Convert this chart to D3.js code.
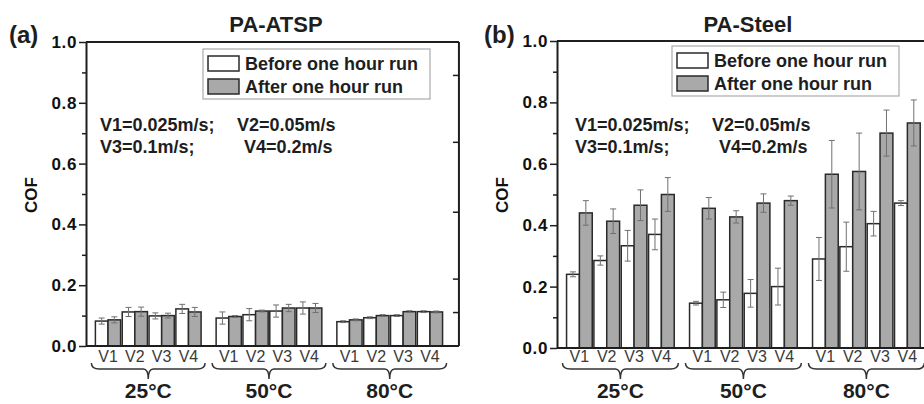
<!DOCTYPE html>
<html>
<head>
<meta charset="utf-8">
<script src="https://cdn.jsdelivr.net/npm/d3@7"></script>
<style>
  body { margin: 0; background: #fff; }
  svg { font-family: "Liberation Sans", Arial, sans-serif; }
</style>
</head>
<body>
<svg id="chart" width="924" height="404"></svg>
<script>
const temps = ["25°C", "50°C", "80°C"]
const speeds = ["V1", "V2", "V3", "V4"]
const yTicks = [0, 0.2, 0.4, 0.6, 0.8, 1.0]
const yMinorTicks = [0.1, 0.3, 0.5, 0.7, 0.9]
const rightTicks = [0.11, 0.22, 0.44, 0.67, 0.89]
const legendLabels = ["Before one hour run", "After one hour run"]
const noteLines = [["V1=0.025m/s;", "V2=0.05m/s"], ["V3=0.1m/s;", "V4=0.2m/s"]]

// PA-ATSP, 12 values: 25°C V1..V4, 50°C V1..V4, 80°C V1..V4
const atspBefore = [0.082, 0.112, 0.099, 0.122, 0.092, 0.103, 0.115, 0.125, 0.080, 0.093, 0.100, 0.113]
const atspBeforeErr = [0.010, 0.015, 0.010, 0.015, 0.020, 0.020, 0.020, 0.020, 0.003, 0.003, 0.003, 0.003]
const atspAfter = [0.086, 0.113, 0.100, 0.112, 0.097, 0.115, 0.125, 0.125, 0.086, 0.100, 0.113, 0.112]
const atspAfterErr = [0.010, 0.015, 0.008, 0.015, 0.003, 0.003, 0.012, 0.015, 0.003, 0.003, 0.003, 0.003]

// PA-Steel
const steelBefore = [0.240, 0.285, 0.333, 0.370, 0.146, 0.157, 0.178, 0.200, 0.290, 0.330, 0.405, 0.472]
const steelBeforeErr = [0.008, 0.015, 0.050, 0.050, 0.006, 0.025, 0.045, 0.060, 0.070, 0.080, 0.040, 0.008]
const steelAfter = [0.440, 0.413, 0.465, 0.500, 0.455, 0.427, 0.472, 0.480, 0.566, 0.575, 0.700, 0.733]
const steelAfterErr = [0.040, 0.040, 0.050, 0.055, 0.035, 0.020, 0.030, 0.015, 0.110, 0.125, 0.075, 0.075]

const svg = d3.select("#chart")
const ink = "#1e1e1e"

function drawPanel(p) {
  const g = svg.append("g")
  const x = d3.scaleLinear().domain([-0.82, 13.08]).range([p.left, p.left + 13.9 * p.unit])
  const y = d3.scaleLinear().domain([0, 1]).range([p.bottom, p.top])
  const right = x(13.08)
  const pos = (i) => Math.floor(i / 4) * 4.5 + (i % 4)
  const bw = p.unit * 0.47

  // bars
  const rows = p.before.map((d, i) => ({ i, b: d, be: p.beforeErr[i], a: p.after[i], ae: p.afterErr[i] }))
  g.selectAll("rect.before").data(rows).enter().append("rect")
    .attr("x", d => x(pos(d.i)) - bw)
    .attr("y", d => y(d.b))
    .attr("width", bw)
    .attr("height", d => y(0) - y(d.b))
    .attr("fill", "#fff").attr("stroke", "#2a2a2a").attr("stroke-width", 1.5)
  g.selectAll("rect.after").data(rows).enter().append("rect")
    .attr("x", d => x(pos(d.i)))
    .attr("y", d => y(d.a))
    .attr("width", bw)
    .attr("height", d => y(0) - y(d.a))
    .attr("fill", "#a9a9a9").attr("stroke", "#2a2a2a").attr("stroke-width", 1.5)

  // error bars
  const errs = []
  rows.forEach(d => {
    errs.push({ cx: x(pos(d.i)) - bw / 2, v: d.b, e: d.be })
    errs.push({ cx: x(pos(d.i)) + bw / 2, v: d.a, e: d.ae })
  })
  const eg = g.selectAll("g.err").data(errs).enter().append("g")
    .attr("stroke", "#707070").attr("stroke-width", 1)
  eg.append("line").attr("x1", d => d.cx).attr("x2", d => d.cx)
    .attr("y1", d => y(d.v - d.e)).attr("y2", d => y(d.v + d.e))
  eg.append("line").attr("x1", d => d.cx - 3).attr("x2", d => d.cx + 3)
    .attr("y1", d => y(d.v + d.e)).attr("y2", d => y(d.v + d.e))
  eg.append("line").attr("x1", d => d.cx - 3).attr("x2", d => d.cx + 3)
    .attr("y1", d => y(d.v - d.e)).attr("y2", d => y(d.v - d.e))

  // frame
  g.append("line").attr("x1", p.left).attr("x2", right).attr("y1", y(1)).attr("y2", y(1))
    .attr("stroke", ink).attr("stroke-width", 2)
  g.append("line").attr("x1", p.left).attr("x2", right).attr("y1", y(0)).attr("y2", y(0))
    .attr("stroke", ink).attr("stroke-width", 2)
  g.append("line").attr("x1", right).attr("x2", right).attr("y1", y(0)).attr("y2", y(1))
    .attr("stroke", ink).attr("stroke-width", 2)
  g.selectAll("line.rt").data(rightTicks).enter().append("line")
    .attr("x1", right).attr("x2", right - 6).attr("y1", d => y(d)).attr("y2", d => y(d))
    .attr("stroke", ink).attr("stroke-width", 1.5)

  // y axis
  const ya = g.append("g").attr("transform", `translate(${p.left},0)`)
    .call(d3.axisLeft(y).tickValues(yTicks).tickFormat(d3.format(".1f")).tickSize(7).tickSizeOuter(0).tickPadding(2))
  ya.select(".domain").attr("stroke", ink).attr("stroke-width", 2)
  ya.selectAll(".tick line").attr("stroke", ink).attr("stroke-width", 1.5)
  ya.selectAll(".tick text").attr("fill", "#111").attr("font-size", 17).attr("font-weight", "bold")
    .attr("font-family", "Liberation Sans, Arial").attr("letter-spacing", 0.6)
  const ym = g.append("g").attr("transform", `translate(${p.left},0)`)
    .call(d3.axisLeft(y).tickValues(yMinorTicks).tickFormat("").tickSize(4).tickSizeOuter(0))
  ym.select(".domain").remove()
  ym.selectAll(".tick line").attr("stroke", ink).attr("stroke-width", 1.5)

  g.append("text").text("COF")
    .attr("transform", `translate(${p.left - 49},195) rotate(-90)`)
    .attr("text-anchor", "middle").attr("font-size", 17).attr("font-weight", "bold").attr("fill", "#111")

  // x labels
  g.selectAll("text.v").data(rows).enter().append("text")
    .text(d => speeds[d.i % 4])
    .attr("x", d => x(pos(d.i))).attr("y", 362)
    .attr("text-anchor", "middle").attr("font-size", 16).attr("fill", "#3a3a3a")

  // braces and temperatures
  temps.forEach((t, k) => {
    const xl = x(k * 4.5 - 0.62), xr = x(k * 4.5 + 3.62), xc = x(k * 4.5 + 1.5)
    const y0 = 363, y1 = 369
    g.append("path")
      .attr("d", `M${xl},${y0} Q${xl},${y1} ${xl + 8},${y1} L${xc - 5},${y1} Q${xc},${y1} ${xc},${y1 + 10}` +
        ` Q${xc},${y1} ${xc + 5},${y1} L${xr - 8},${y1} Q${xr},${y1} ${xr},${y0}`)
      .attr("fill", "none").attr("stroke", "#333").attr("stroke-width", 1.5)
    g.append("text").text(t).attr("x", xc).attr("y", 398)
      .attr("text-anchor", "middle").attr("font-size", 21).attr("font-weight", "bold").attr("fill", ink)
  })

  // title and panel letter
  g.append("text").text(p.title).attr("x", p.titleX).attr("y", 32)
    .attr("text-anchor", "middle").attr("font-size", 22).attr("font-weight", "bold").attr("fill", ink)
  g.append("text").text(p.letter).attr("x", p.letterX).attr("y", 43)
    .attr("font-size", 24).attr("font-weight", "bold").attr("fill", ink)

  // legend
  const lg = g.append("g").attr("transform", `translate(${p.legendX},${p.legendY})`)
  lg.append("rect").attr("width", 227).attr("height", 50)
    .attr("fill", "#fff").attr("stroke", "#aaa").attr("stroke-width", 1.2)
  legendLabels.forEach((l, k) => {
    lg.append("rect").attr("x", 5).attr("y", 7 + k * 23).attr("width", 31).attr("height", 15)
      .attr("fill", k ? "#a9a9a9" : "#fff").attr("stroke", "#2a2a2a").attr("stroke-width", 1.5)
    lg.append("text").text(l).attr("x", 42).attr("y", 21 + k * 23)
      .attr("font-size", 18).attr("font-weight", "bold").attr("fill", ink)
  })

  // speed note
  noteLines.forEach((line, k) => {
    g.append("text").text(line[0]).attr("x", p.noteX).attr("y", 131 + k * 22)
      .attr("font-size", 18).attr("font-weight", "bold").attr("fill", ink)
    g.append("text").text(line[1]).attr("x", p.noteX + (k ? 144 : 137)).attr("y", 131 + k * 22)
      .attr("font-size", 18).attr("font-weight", "bold").attr("fill", ink)
  })
}

drawPanel({
  left: 86, top: 42, bottom: 346, unit: 26.83,
  before: atspBefore, beforeErr: atspBeforeErr, after: atspAfter, afterErr: atspAfterErr,
  title: "PA-ATSP", titleX: 276, letter: "(a)", letterX: 9,
  legendX: 203, legendY: 49, noteX: 100
})
drawPanel({
  left: 557, top: 41, bottom: 348, unit: 27.33,
  before: steelBefore, beforeErr: steelBeforeErr, after: steelAfter, afterErr: steelAfterErr,
  title: "PA-Steel", titleX: 748, letter: "(b)", letterX: 484,
  legendX: 672, legendY: 46, noteX: 575
})
</script>
</body>
</html>
